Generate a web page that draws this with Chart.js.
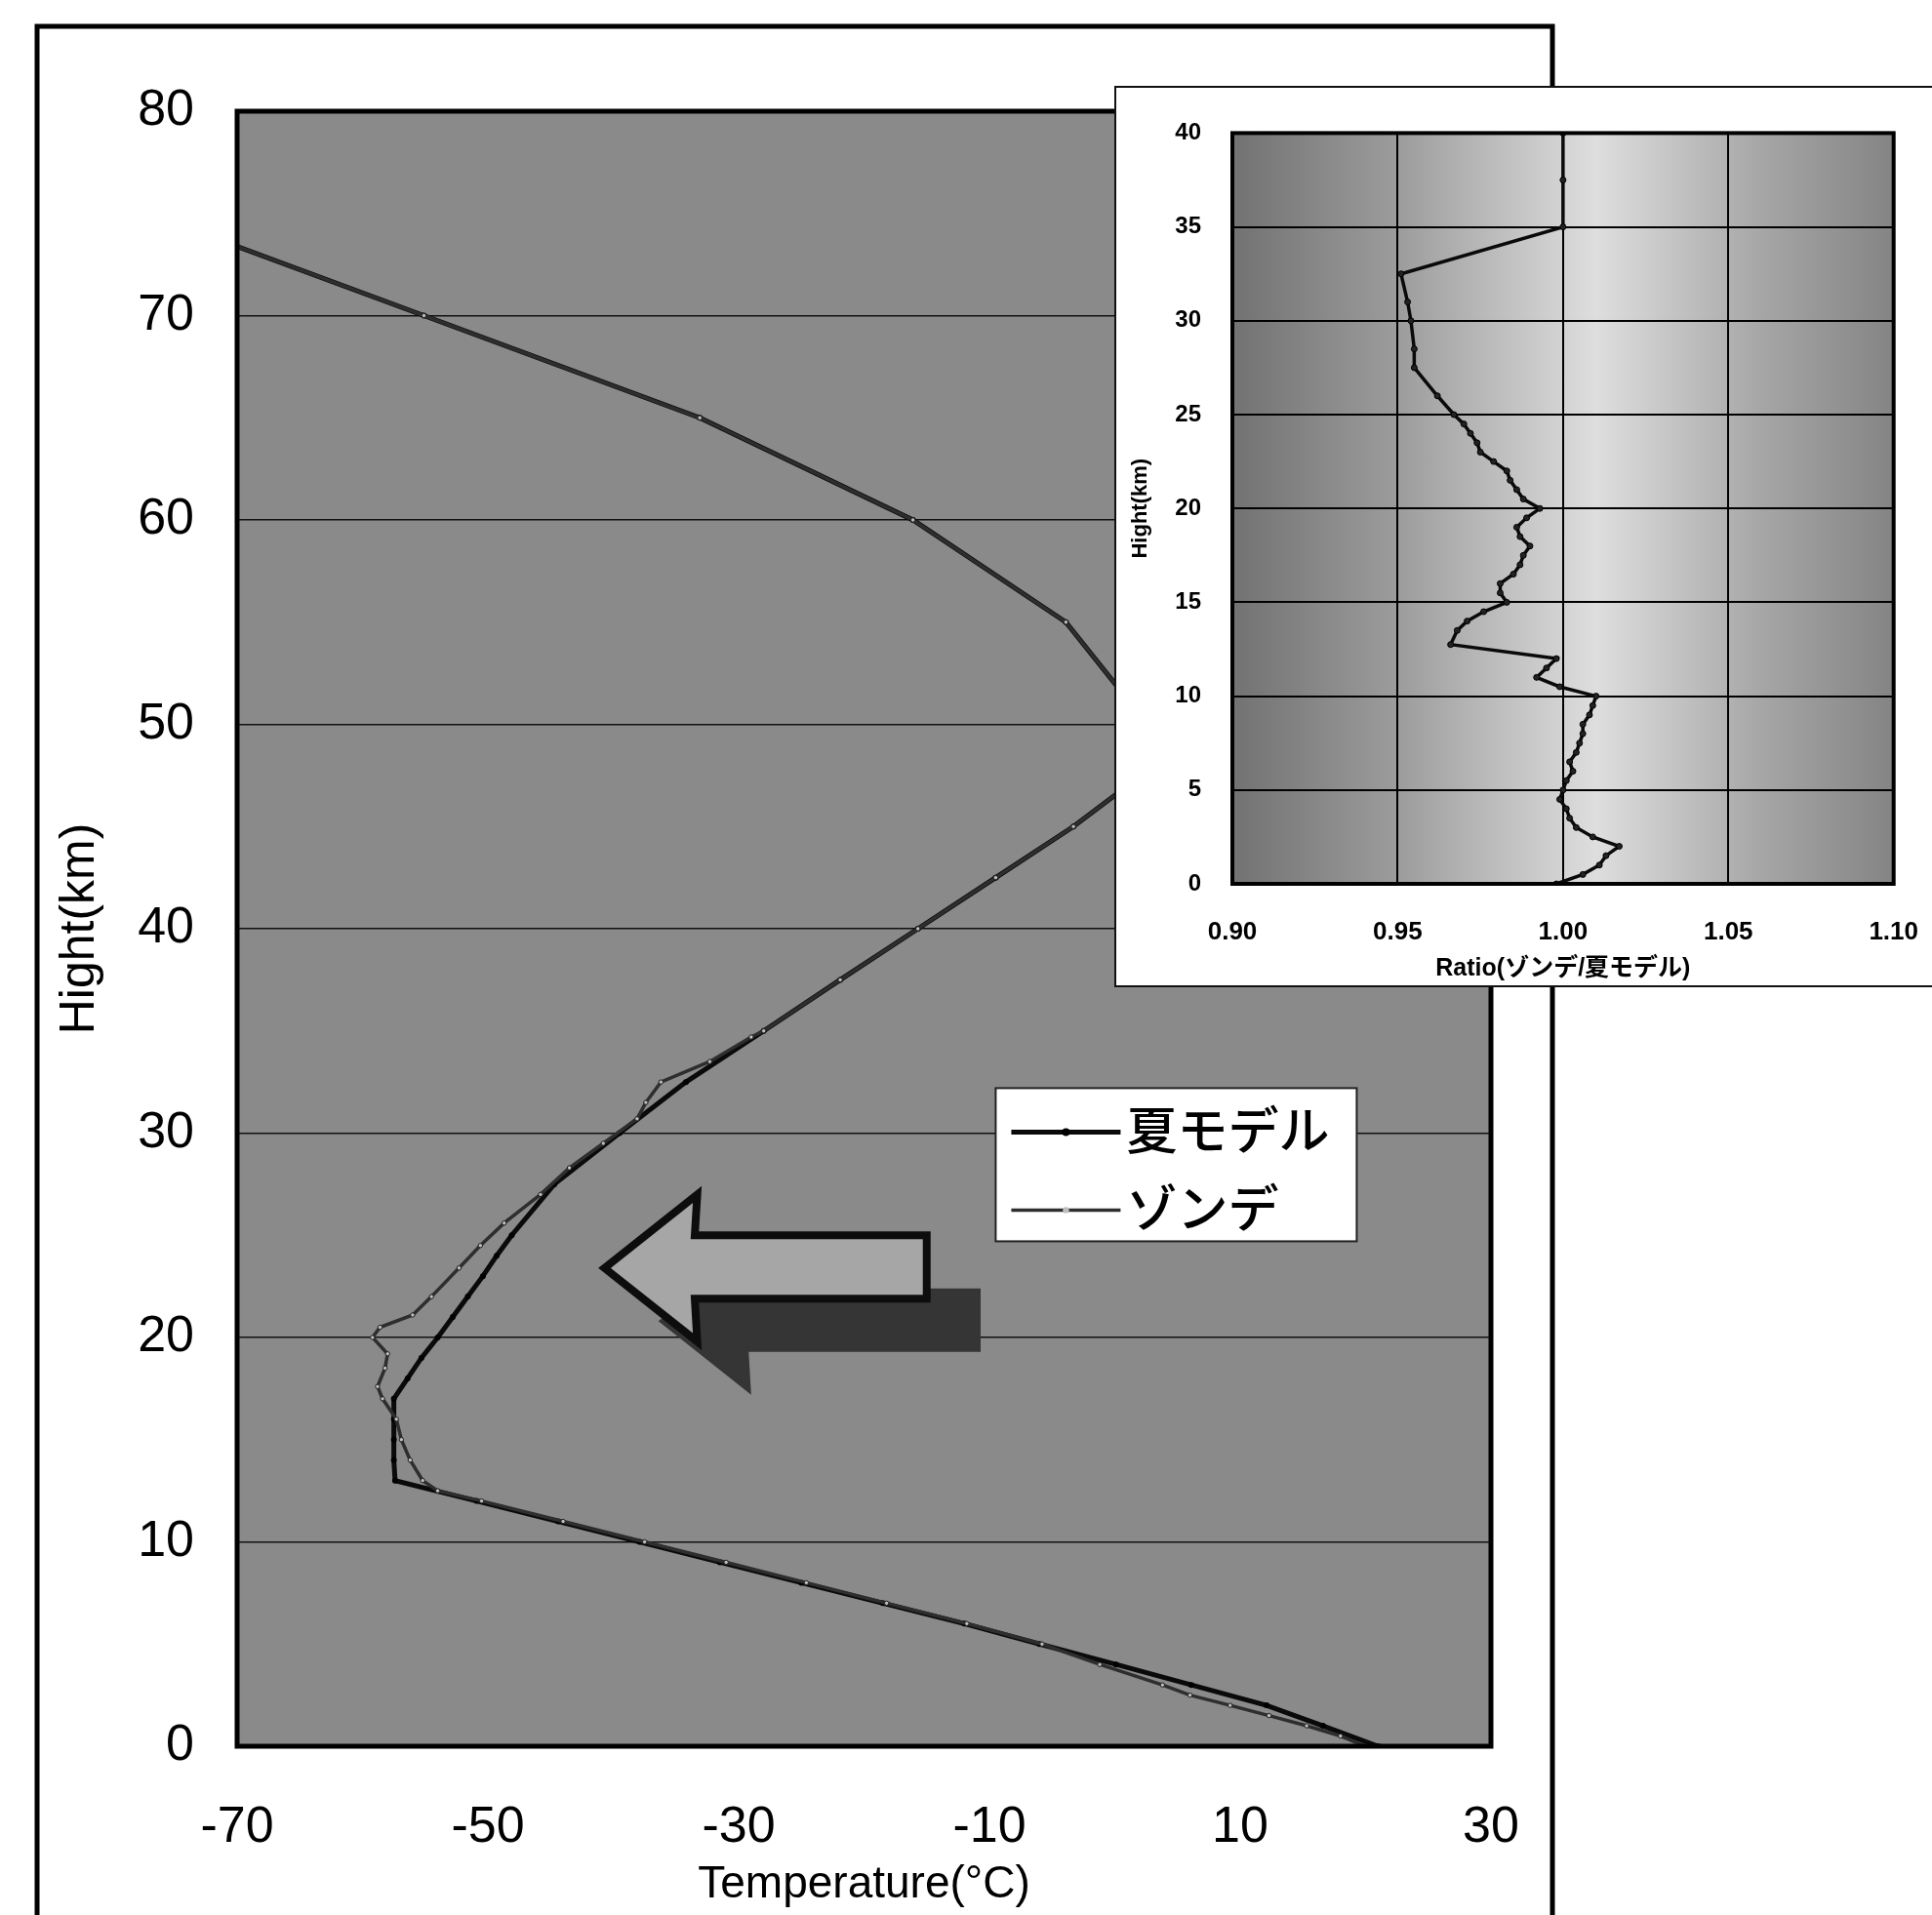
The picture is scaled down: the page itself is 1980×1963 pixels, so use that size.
<!DOCTYPE html>
<html><head><meta charset="utf-8">
<script src="https://cdn.jsdelivr.net/npm/chart.js@4.4.0/dist/chart.umd.min.js"></script>
<style>
html,body{margin:0;padding:0;background:#fff;width:1980px;height:1963px;overflow:hidden;}
#main{position:absolute;left:0;top:0;}
#insetBox{position:absolute;left:1142px;top:88px;width:860px;height:920px;border:2px solid #111;background:#fff;}
#inset{position:absolute;left:0;top:0;}
</style></head><body>
<canvas id="main" width="1980" height="1963"></canvas>
<div id="insetBox"><canvas id="inset" width="856" height="920"></canvas></div>
<script>
// ---------- main chart data (Temperature vs Height) ----------
const modelHeights = [0,1,2,3,4,5,6,7,8,9,10,11,12,13,14,15,16,17,18,19,20,21,22,23,24,25,27.5,30,32.5,35,37.5,40,42.5,45,47.5,50,55,60,65,70,75];
const modelTemps   = [21.0,16.6,12.1,6.1,0.1,-6.0,-12.0,-18.5,-25.0,-31.5,-37.9,-44.4,-50.9,-57.4,-57.5,-57.5,-57.5,-57.5,-56.4,-55.3,-54.0,-52.8,-51.6,-50.4,-49.3,-48.1,-44.7,-39.5,-34.2,-28.0,-21.9,-15.7,-9.5,-3.3,2.1,2.6,-3.9,-16.1,-33.1,-55.1,-77.1];
const sondeHeights = [0,0.5,1,1.5,2,2.5,3,4,5,6,7,8,9,10,11,12,12.5,13,14,15,16,17,17.6,18.5,19.2,20,20.5,21.1,22,23.4,24.5,25.6,27,28.3,29.5,30.7,31.5,32.5,33.5,34.7,35,37.5,40,42.5,45,47.5,50,55,60,65,70,75];
const sondeTemps   = [20.0,18.0,15.3,12.3,9.2,6.0,3.8,-1.2,-5.8,-11.8,-18.2,-24.6,-31.0,-37.5,-44.0,-50.5,-54.0,-55.2,-56.2,-56.9,-57.3,-58.4,-58.8,-58.2,-58.0,-59.2,-58.6,-56.0,-54.5,-52.3,-50.6,-48.7,-45.8,-43.5,-40.8,-38.1,-37.4,-36.2,-32.3,-29.0,-28.0,-21.9,-15.7,-9.5,-3.3,2.1,2.6,-3.9,-16.1,-33.1,-55.1,-77.1];
const seriesLabels = ['夏モデル','ゾンデ'];
const xTickValues = [-70,-50,-30,-10,10,30];
const yTickValues = [0,10,20,30,40,50,60,70,80];

// ---------- inset data (Ratio vs Height) ----------
const ratioHeights = [0,0.5,1,1.5,2,2.5,3,3.5,4,4.5,5,5.5,6,6.5,7,7.5,8,8.5,9,9.5,10,10.5,11,11.5,12,12.75,13.5,14,14.5,15,15.5,16,16.5,17,17.5,18,18.5,19,19.5,20,20.5,21,21.5,22,22.5,23,23.5,24,24.5,25,26,27.5,28.5,30,31,32.5,35,37.5,40];
const ratioValues  = [0.998,1.006,1.011,1.013,1.017,1.009,1.004,1.002,1.001,0.999,1.000,1.001,1.003,1.002,1.004,1.005,1.006,1.006,1.008,1.009,1.010,0.999,0.992,0.995,0.998,0.966,0.968,0.971,0.976,0.983,0.981,0.981,0.985,0.987,0.988,0.990,0.987,0.986,0.989,0.993,0.988,0.986,0.984,0.983,0.979,0.975,0.974,0.972,0.970,0.967,0.962,0.955,0.955,0.954,0.953,0.951,1.000,1.000,1.000];
const insetXTicks = [0.90,0.95,1.00,1.05,1.10];
const insetYTicks = [0,5,10,15,20,25,30,35,40];

// annotation (in data units of the main chart)
const arrowShape = [[-40.7,23.4],[-33.3,27.0],[-33.5,25.0],[-15.0,25.0],[-15.0,21.9],[-33.5,21.9],[-33.3,19.8]];
const arrowShadowShift = [4.3,-2.6];
const legendAnchor = [-9.5,32.2];

Chart.defaults.font.family = "'Liberation Sans', Arial, sans-serif";
Chart.defaults.color = '#000';

const toPts = (xs, ys) => xs.map((x, i) => ({x: x, y: ys[i]}));

const mainPlugin = {
  id: 'mainDeco',
  beforeDraw(chart) {
    const {ctx, chartArea: a} = chart;
    ctx.save();
    ctx.fillStyle = '#fff';
    ctx.fillRect(0, 0, chart.width, chart.height);
    ctx.strokeStyle = '#000';
    ctx.lineWidth = 5;
    ctx.strokeRect(38, 27, 1553, 2100);
    ctx.fillStyle = '#8a8a8a';
    ctx.fillRect(a.left, a.top, a.width, a.height);
    ctx.restore();
  },
  afterDatasetsDraw(chart) {
    const {ctx} = chart;
    const X = v => chart.scales.x.getPixelForValue(v);
    const Y = v => chart.scales.y.getPixelForValue(v);
    ctx.save();
    // arrow shadow
    ctx.beginPath();
    arrowShape.forEach(([t, h], i) => {
      const px = X(t + arrowShadowShift[0]), py = Y(h + arrowShadowShift[1]);
      i ? ctx.lineTo(px, py) : ctx.moveTo(px, py);
    });
    ctx.closePath();
    ctx.fillStyle = '#353535';
    ctx.fill();
    // arrow face
    ctx.beginPath();
    arrowShape.forEach(([t, h], i) => {
      const px = X(t), py = Y(h);
      i ? ctx.lineTo(px, py) : ctx.moveTo(px, py);
    });
    ctx.closePath();
    ctx.fillStyle = '#a6a6a6';
    ctx.fill();
    ctx.lineJoin = 'miter';
    ctx.lineWidth = 8;
    ctx.strokeStyle = '#0d0d0d';
    ctx.stroke();

    // legend
    const lx = X(legendAnchor[0]), ly = Y(legendAnchor[1]);
    const w = 370, h = 157;
    ctx.fillStyle = '#fff';
    ctx.fillRect(lx, ly, w, h);
    ctx.lineWidth = 2;
    ctx.strokeStyle = '#222';
    ctx.strokeRect(lx, ly, w, h);
    const ds = chart.data.datasets;
    const rows = [ly + 45, ly + 125];
    ds.forEach((d, i) => {
      const y = rows[i];
      ctx.beginPath();
      ctx.moveTo(lx + 16, y); ctx.lineTo(lx + 128, y);
      ctx.strokeStyle = d.borderColor;
      ctx.lineWidth = d.borderWidth;
      ctx.stroke();
      ctx.beginPath();
      ctx.arc(lx + 72, y, d.pointRadius + 1, 0, Math.PI * 2);
      ctx.fillStyle = d.pointBackgroundColor;
      ctx.fill();
      ctx.fillStyle = '#000';
      ctx.font = "500 52px 'Noto Sans CJK JP', sans-serif";
      ctx.textBaseline = 'middle';
      ctx.textAlign = 'left';
      ctx.fillText(d.label, lx + 134, y - 2);
    });
    ctx.restore();
  },
  afterDraw(chart) {
    const {ctx, chartArea: a} = chart;
    ctx.save();
    ctx.strokeStyle = '#000';
    ctx.lineWidth = 5;
    ctx.strokeRect(a.left, a.top, a.width, a.height);
    ctx.restore();
  }
};

new Chart(document.getElementById('main'), {
  type: 'line',
  data: {
    datasets: [
      {label: seriesLabels[0], data: toPts(modelTemps, modelHeights), borderColor: '#0a0a0a', borderWidth: 5,
       pointRadius: 3, pointBackgroundColor: '#000', pointBorderWidth: 0, order: 1, tension: 0},
      {label: seriesLabels[1], data: toPts(sondeTemps, sondeHeights), borderColor: '#2e2e2e', borderWidth: 3.5,
       pointRadius: 2.2, pointBackgroundColor: '#bdbdbd', pointBorderColor: '#1e1e1e', pointBorderWidth: 1, order: 0, tension: 0}
    ]
  },
  options: {
    responsive: false, animation: false, events: [],
    layout: {padding: {left: 40, top: 114, right: 452, bottom: 0}},
    plugins: {legend: {display: false}, tooltip: {enabled: false}},
    scales: {
      x: {
        type: 'linear', min: -70, max: 30,
        afterBuildTicks: s => { s.ticks = xTickValues.map(v => ({value: v})); },
        afterFit: s => { s.height = 173; },
        grid: {display: false, drawTicks: false},
        border: {display: false},
        ticks: {font: {size: 52}, padding: 52, maxRotation: 0, autoSkip: false},
        title: {display: true, text: 'Temperature(°C)', font: {size: 46}, padding: {top: 0, bottom: 3}}
      },
      y: {
        type: 'linear', min: 0, max: 80,
        afterBuildTicks: s => { s.ticks = yTickValues.map(v => ({value: v})); },
        afterFit: s => { s.width = 203; },
        grid: {color: '#111', lineWidth: 1.5, drawTicks: false},
        border: {display: false},
        ticks: {font: {size: 52}, padding: 44, autoSkip: false},
        title: {display: true, text: 'Hight(km)', font: {size: 50}, padding: {top: 12, bottom: 0}}
      }
    }
  },
  plugins: [mainPlugin]
});

const insetPlugin = {
  id: 'insetDeco',
  beforeDraw(chart) {
    const {ctx, chartArea: a} = chart;
    ctx.save();
    ctx.fillStyle = '#fff';
    ctx.fillRect(0, 0, chart.width, chart.height);
    const g = ctx.createLinearGradient(a.left, 0, a.right, 0);
    g.addColorStop(0, '#727272');
    g.addColorStop(0.25, '#9c9c9c');
    g.addColorStop(0.55, '#dedede');
    g.addColorStop(0.8, '#a6a6a6');
    g.addColorStop(1, '#848484');
    ctx.fillStyle = g;
    ctx.fillRect(a.left, a.top, a.width, a.height);
    ctx.restore();
  },
  afterDraw(chart) {
    const {ctx, chartArea: a} = chart;
    ctx.save();
    ctx.strokeStyle = '#000';
    ctx.lineWidth = 4;
    ctx.strokeRect(a.left, a.top, a.width, a.height);
    ctx.restore();
  }
};

new Chart(document.getElementById('inset'), {
  type: 'line',
  data: {
    datasets: [{
      label: 'Ratio', data: toPts(ratioValues, ratioHeights), borderColor: '#0a0a0a', borderWidth: 3.5,
      pointRadius: 3, pointBackgroundColor: '#222', pointBorderColor: '#000', pointBorderWidth: 1, tension: 0
    }]
  },
  options: {
    responsive: false, animation: false, events: [],
    layout: {padding: {left: 10, top: 44, right: 49, bottom: 0}},
    plugins: {legend: {display: false}, tooltip: {enabled: false}},
    scales: {
      x: {
        type: 'linear', min: 0.9, max: 1.1,
        afterBuildTicks: s => { s.ticks = insetXTicks.map(v => ({value: v})); },
        afterFit: s => { s.height = 104; },
        grid: {color: '#000', lineWidth: 2, drawTicks: false},
        border: {display: false},
        ticks: {font: {size: 26, weight: 'bold'}, padding: 34, maxRotation: 0, autoSkip: false,
                callback: v => Number(v).toFixed(2)},
        title: {display: true, text: 'Ratio(ゾンデ/夏モデル)', font: {size: 25, weight: 'bold', family: "'Liberation Sans', 'Noto Sans CJK JP', sans-serif"}, padding: {top: 0, bottom: 2}}
      },
      y: {
        type: 'linear', min: 0, max: 40,
        afterBuildTicks: s => { s.ticks = insetYTicks.map(v => ({value: v})); },
        afterFit: s => { s.width = 109; },
        grid: {color: '#000', lineWidth: 2, drawTicks: false},
        border: {display: false},
        ticks: {font: {size: 24, weight: 'bold'}, padding: 32, autoSkip: false},
        title: {display: true, text: 'Hight(km)', font: {size: 22, weight: 'bold'}, padding: {top: 2, bottom: 0}}
      }
    }
  },
  plugins: [insetPlugin]
});
</script></body></html>
